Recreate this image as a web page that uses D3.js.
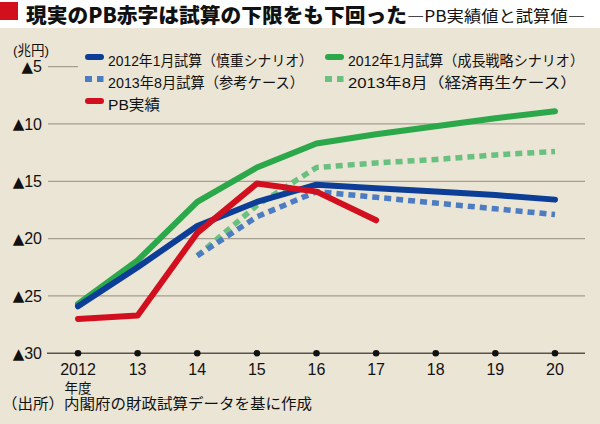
<!DOCTYPE html>
<html><head><meta charset="utf-8">
<script src="https://cdn.jsdelivr.net/npm/d3@7"></script>
<style>
html,body{margin:0;padding:0;background:#fff;}
svg{display:block;}
</style></head>
<body>
<svg id="chart" width="600" height="424"></svg>
<script>
// ---- data ----
const years = ["2012","13","14","15","16","17","18","19","20"];
const cautious2012 = [-25.9,-22.5,-18.9,-16.8,-15.3,-15.6,-15.9,-16.2,-16.6];
const growth2012   = [-25.7,-21.9,-16.8,-13.8,-11.7,-10.9,-10.2,-9.5,-8.9];
const reference2013 = [null,null,-21.5,-18.1,-15.9,-16.4,-16.9,-17.4,-17.9];
const revival2013   = [null,null,-21.5,-17.1,-13.8,-13.4,-13.1,-12.7,-12.4];
const pbActual      = [-27.0,-26.7,-19.5,-15.2,-15.9,-18.4,null,null,null];
const yTicks = [-5,-10,-15,-20,-25,-30];
const seriesNames = ["2012年1月試算（慎重シナリオ）","2012年1月試算（成長戦略シナリオ）","2013年8月試算（参考ケース）","2013年8月（経済再生ケース）","PB実績"];

const svg = d3.select("#chart");
const JP = "'Noto Sans CJK JP', sans-serif";
const LAT = "'Liberation Sans', 'Noto Sans CJK JP', sans-serif";

// background
svg.append("rect").attr("x",0).attr("y",0).attr("width",600).attr("height",424).attr("fill","#ebe5d5");
svg.append("rect").attr("x",0).attr("y",0).attr("width",600).attr("height",28).attr("fill","#ffffff");
svg.append("rect").attr("x",0).attr("y",2).attr("width",18).attr("height",18).attr("fill","#d2101d");

// title
svg.append("text").attr("x",26).attr("y",22.5)
  .attr("font-family",JP).attr("font-weight",900).attr("font-size",20.5)
  .attr("textLength",381).attr("lengthAdjust","spacingAndGlyphs")
  .attr("fill","#111").text("現実のPB赤字は試算の下限をも下回った");
svg.append("text").attr("x",407).attr("y",21.5)
  .attr("font-family",JP).attr("font-size",16)
  .attr("textLength",178).attr("lengthAdjust","spacingAndGlyphs")
  .attr("fill","#111").text("―PB実績値と試算値―");

// scales
const x = d3.scalePoint().domain(years).range([78,555]);
const y = d3.scaleLinear().domain([-5,-30]).range([66.6,353.3]);

// gridlines
svg.append("g").selectAll("line").data(yTicks.filter(d=>d!==-30)).join("line")
  .attr("x1",48).attr("x2",585).attr("y1",d=>y(d)).attr("y2",d=>y(d))
  .attr("stroke","#a69e90").attr("stroke-width",1.3);

// y labels
const yl = svg.append("g").selectAll("text").data(yTicks).join("text")
  .attr("x",42).attr("y",d=>y(d)+5.8).attr("text-anchor","end")
  .attr("fill","#111");
yl.append("tspan").attr("font-family","'DejaVu Sans', sans-serif").attr("font-size",15)
  .attr("dy",-0.5).text("▲");
yl.append("tspan").attr("font-family",LAT).attr("font-size",16).attr("dy",0.5).text(d=>Math.abs(d));

svg.append("text").attr("x",13).attr("y",55).attr("font-family",LAT).attr("font-size",13.5)
  .attr("fill","#111").text("(兆円)");

// legend background
svg.append("rect").attr("x",78).attr("y",44).attr("width",516).attr("height",68).attr("fill","#ebe5d5");

// lines
const lineGen = d3.line().defined(d=>d.v!==null).x(d=>x(d.k)).y(d=>y(d.v));
function toPts(arr){ return years.map((k,i)=>({k:k,v:arr[i]})); }

const series = [
  {data:revival2013, color:"#69c07f", dash:"7,5", cap:"butt", w:5.5},
  {data:reference2013, color:"#4c7dc2", dash:"7,5", cap:"butt", w:5.5},
  {data:growth2012, color:"#2ba84a", dash:null, cap:"round", w:6},
  {data:cautious2012, color:"#0c3e98", dash:null, cap:"round", w:6},
  {data:pbActual, color:"#d20f1e", dash:null, cap:"round", w:6}
];
const lg = svg.append("g");
series.forEach(s=>{
  lg.append("path").attr("d",lineGen(toPts(s.data)))
    .attr("fill","none").attr("stroke",s.color).attr("stroke-width",s.w)
    .attr("stroke-linecap",s.cap).attr("stroke-linejoin","round")
    .attr("stroke-dasharray",s.dash);
});

// x axis
svg.append("line").attr("x1",47).attr("x2",585).attr("y1",y(-30)).attr("y2",y(-30))
  .attr("stroke","#5a544c").attr("stroke-width",1.6);
svg.append("g").selectAll("circle").data(years).join("circle")
  .attr("cx",d=>x(d)).attr("cy",y(-30)).attr("r",3.3).attr("fill","#111");
svg.append("g").selectAll("text").data(years).join("text")
  .attr("x",d=>x(d)).attr("y",375).attr("text-anchor","middle")
  .attr("font-family",LAT).attr("font-size",16).attr("fill","#111").text(d=>d);
svg.append("text").attr("x",x("2012")).attr("y",392.5).attr("text-anchor","middle")
  .attr("font-family",JP).attr("font-size",13.5).attr("fill","#111").text("年度");

// legend
const legendItems = [
  {name:seriesNames[0], s:series[3], lx:85, ly:57, tl:205},
  {name:seriesNames[1], s:series[2], lx:325, ly:57, tl:236},
  {name:seriesNames[2], s:series[1], lx:85, ly:79, tl:196},
  {name:seriesNames[3], s:series[0], lx:325, ly:79, tl:229},
  {name:seriesNames[4], s:series[4], lx:85, ly:101, tl:52}
];
const leg = svg.append("g");
legendItems.forEach(it=>{
  if(it.s.dash){
    leg.append("line").attr("x1",it.lx).attr("x2",it.lx+18.5).attr("y1",it.ly).attr("y2",it.ly)
      .attr("stroke",it.s.color).attr("stroke-width",6).attr("stroke-dasharray","7,5");
  } else {
    leg.append("line").attr("x1",it.lx+3).attr("x2",it.lx+16).attr("y1",it.ly).attr("y2",it.ly)
      .attr("stroke",it.s.color).attr("stroke-width",6).attr("stroke-linecap","round");
  }
  leg.append("text").attr("x",it.lx+23).attr("y",it.ly+8.5)
    .attr("font-family",LAT).attr("font-size",14.5).attr("fill","#111")
    .attr("textLength",it.tl).attr("lengthAdjust","spacingAndGlyphs").text(it.name);
});

// footnote
svg.append("text").attr("x",2).attr("y",409).attr("font-family",JP).attr("font-size",15)
  .attr("textLength",310).attr("lengthAdjust","spacingAndGlyphs")
  .attr("fill","#111").text("（出所）内閣府の財政試算データを基に作成");
</script>
</body></html>
